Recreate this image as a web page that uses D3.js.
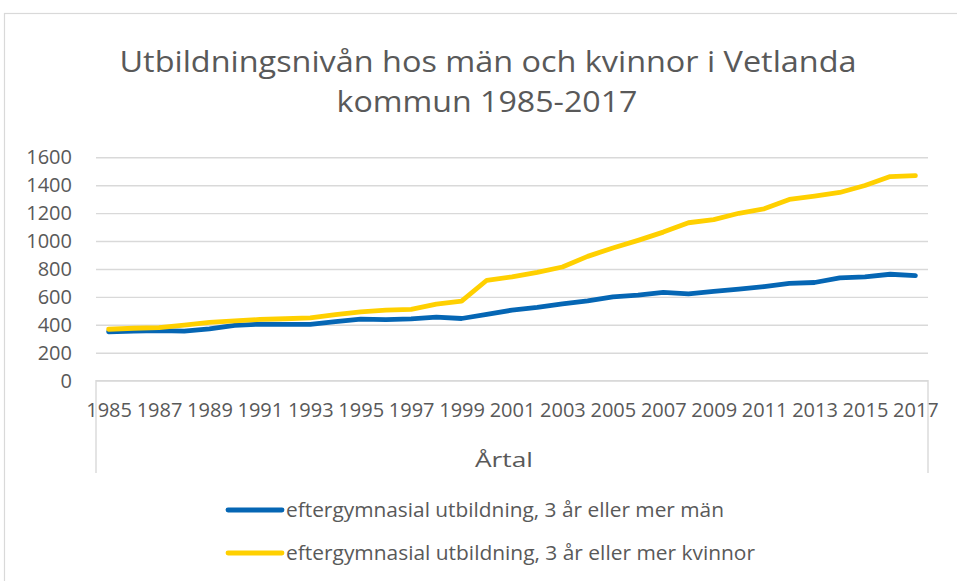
<!DOCTYPE html>
<html lang="sv">
<head>
<meta charset="utf-8">
<script src="https://cdn.jsdelivr.net/npm/d3@7"></script>
<style>
  html, body { margin: 0; padding: 0; background: #fff; }
  svg { display: block; font-family: "Open Sans", sans-serif; }
</style>
</head>
<body>
<svg id="chart" width="957" height="581"></svg>
<script>
// Antal personer med eftergymnasial utbildning (3 år eller mer), Vetlanda kommun
const years = d3.range(1985, 2018);
const man = [350, 355, 358, 355, 370, 395, 405, 403, 403, 422, 440, 437, 443, 455, 445, 474,
             505, 524, 550, 572, 600, 612, 632, 621, 640, 655, 674, 696, 703, 736, 743, 762, 752];
const kvinnor = [368, 375, 380, 398, 417, 428, 438, 443, 450, 472, 493, 505, 510, 548, 569, 719,
                 743, 776, 814, 890, 950, 1005, 1064, 1131, 1153, 1199, 1231, 1298, 1321, 1348, 1398, 1462, 1469];
const yTicks = [0, 200, 400, 600, 800, 1000, 1200, 1400, 1600];
const xTickYears = years.filter(y => (y - 1985) % 2 === 0);
const titleLines = ["Utbildningsnivån hos män och kvinnor i Vetlanda", "kommun 1985-2017"];
const xTitle = "Årtal";
const seriesNames = ["eftergymnasial utbildning, 3 år eller mer män",
                     "eftergymnasial utbildning, 3 år eller mer kvinnor"];

const colors = ["#0566b4", "#ffd000"];
const textColor = "#595959";
const gridColor = "#d9d9d9";

const svg = d3.select("#chart");

// Outer chart frame (only top and left edges fall inside the view)
svg.append("rect")
  .attr("x", 4.5).attr("y", 13.5)
  .attr("width", 1000).attr("height", 1000)
  .attr("fill", "none").attr("stroke", gridColor).attr("stroke-width", 1.2);

const plot = { left: 96, right: 928, top: 157.3, bottom: 380.6 };

const x = d3.scalePoint().domain(years).range([plot.left, plot.right]).padding(0.5);
const y = d3.scaleLinear().domain([0, 1600]).range([plot.bottom, plot.top]);

// Title (two centred lines)
const title = svg.append("g").attr("fill", textColor).attr("text-anchor", "middle");
title.append("text").attr("x", 488).attr("y", 72).attr("font-size", 29)
  .attr("textLength", 737).attr("lengthAdjust", "spacingAndGlyphs").text(titleLines[0]);
title.append("text").attr("x", 487).attr("y", 112).attr("font-size", 29)
  .attr("textLength", 301).attr("lengthAdjust", "spacingAndGlyphs").text(titleLines[1]);

// Horizontal gridlines with y-axis labels
const yAxis = d3.axisLeft(y).tickValues(yTicks).tickFormat(d3.format("d"))
  .tickSize(-(plot.right - plot.left)).tickPadding(24);
const gy = svg.append("g").attr("transform", `translate(${plot.left},0)`).call(yAxis);
gy.select(".domain").remove();
gy.selectAll(".tick line").attr("stroke", gridColor).attr("stroke-width", 1.4);
gy.selectAll(".tick text").attr("fill", textColor).attr("font-size", 20)
  .attr("font-family", "'Open Sans', sans-serif");

// Category axis labels
const xAxis = d3.axisBottom(x).tickValues(xTickYears).tickFormat(d3.format("d"))
  .tickSize(0).tickPadding(22);
const gx = svg.append("g").attr("transform", `translate(0,${plot.bottom})`).call(xAxis);
gx.select(".domain").remove();
gx.selectAll(".tick text").attr("fill", textColor).attr("font-size", 20)
  .attr("font-family", "'Open Sans', sans-serif");

// Axis frame below the plot
svg.append("path")
  .attr("d", `M${plot.left},473V${plot.bottom}H${plot.right}V473`)
  .attr("fill", "none").attr("stroke", gridColor).attr("stroke-width", 1.4);

svg.append("text").attr("x", 504).attr("y", 467).attr("text-anchor", "middle")
  .attr("fill", textColor).attr("font-size", 20)
  .attr("textLength", 58).attr("lengthAdjust", "spacingAndGlyphs").text(xTitle);

// Series lines
const line = d3.line().x((d, i) => x(years[i])).y(d => y(d));
[man, kvinnor].forEach((vals, k) => {
  svg.append("path").datum(vals)
    .attr("d", line)
    .attr("fill", "none")
    .attr("stroke", colors[k])
    .attr("stroke-width", 4.8)
    .attr("stroke-linejoin", "round")
    .attr("stroke-linecap", "round");
});

// Legend
const legendY = [510, 553];
const legendLen = [438, 469];
seriesNames.forEach((name, k) => {
  const g = svg.append("g").attr("transform", `translate(0,${legendY[k]})`);
  g.append("line").attr("x1", 228).attr("x2", 282).attr("y1", 0).attr("y2", 0)
    .attr("stroke", colors[k]).attr("stroke-width", 4.8).attr("stroke-linecap", "round");
  g.append("text").attr("x", 286).attr("y", 7).attr("fill", textColor).attr("font-size", 20.5)
    .attr("textLength", legendLen[k]).attr("lengthAdjust", "spacingAndGlyphs").text(name);
});
</script>
</body>
</html>
